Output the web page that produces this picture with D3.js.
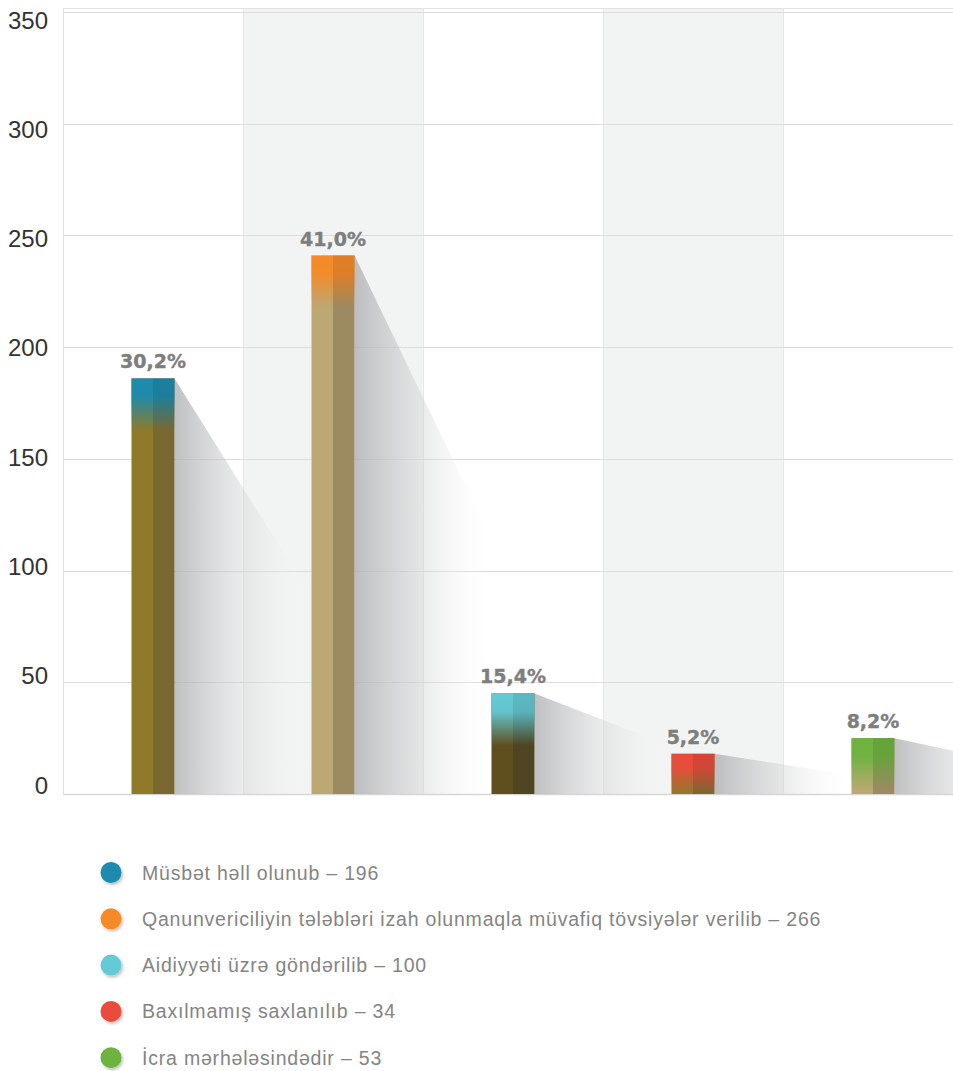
<!DOCTYPE html>
<html>
<head>
<meta charset="utf-8">
<script src="https://cdn.jsdelivr.net/npm/d3@7"></script>
<style>
  body { margin: 0; background: #fff; }
  svg { display: block; }
</style>
</head>
<body>
<div id="chart"></div>
<script>
// Categories (legend text) and their counts.
var categories = ["Müsbət həll olunub", "Qanunvericiliyin tələbləri izah olunmaqla müvafiq tövsiyələr verilib",
                  "Aidiyyəti üzrə göndərilib", "Baxılmamış saxlanılıb", "İcra mərhələsindədir"];
var counts = [196, 266, 100, 34, 53];
// Bar heights as drawn on the picture's axis.
var barHeights = [186, 241, 45, 18, 25];
var capColors = ["#1b8bae", "#f58a27", "#64cad6", "#e94b3c", "#6db33f"];
var bodyLeft  = ["#8f7a2a", "#bba873", "#5f4f1f", "#8f7a2a", "#bba873"];
var bodyRight = ["#7b6830", "#9c8a62", "#4f4522", "#7b6830", "#9c8a62"];
var yTicks = [0, 50, 100, 150, 200, 250, 300, 350];

var width = 953, height = 1071;
var plotLeft = 63, plotRight = 953, plotTop = 12, plotBottom = 794;

var svg = d3.select("#chart").append("svg")
    .attr("width", width)
    .attr("height", height);
var defs = svg.append("defs");

// Scales
var x = d3.scaleBand().domain(d3.range(categories.length)).range([plotLeft, plotLeft + 180 * 5]).padding(0);
var y = d3.scaleLinear().domain([0, 350]).range([plotBottom, plotTop]);
// tick labels sit on a slightly tighter spacing than the grid
var yLab = d3.scaleLinear().domain([0, 350]).range([785, 20]);
var barW = 43;

defs.append("clipPath").attr("id", "plotclip")
  .append("rect").attr("x", plotLeft).attr("y", 0).attr("width", plotRight - plotLeft).attr("height", plotBottom + 1);

// Alternate column bands
svg.selectAll(".band").data(d3.range(5)).enter()
  .append("rect")
  .attr("x", d => x(d))
  .attr("y", 8)
  .attr("width", d => Math.min(x.bandwidth(), plotRight - x(d)))
  .attr("height", plotBottom - 8)
  .attr("fill", (d, i) => i % 2 ? "#f2f4f3" : "#fff");

// Band separators
svg.selectAll(".sep").data(d3.range(1, 5)).enter()
  .append("line")
  .attr("x1", d => x(d) + 0.5).attr("x2", d => x(d) + 0.5)
  .attr("y1", 8).attr("y2", plotBottom)
  .attr("stroke", "#e6e7e7");

// Horizontal gridlines
svg.selectAll(".grid").data(yTicks).enter()
  .append("line")
  .attr("x1", plotLeft).attr("x2", plotRight)
  .attr("y1", d => Math.round(y(d)) + 0.5).attr("y2", d => Math.round(y(d)) + 0.5)
  .attr("stroke", d => d === 0 ? "#d6d6d6" : "#dcdcdc")
  .attr("stroke-width", d => d === 0 ? 1.5 : 1);

// frame top and left
svg.append("line").attr("x1", plotLeft).attr("x2", plotRight).attr("y1", 8.5).attr("y2", 8.5).attr("stroke", "#e2e2e2");
svg.append("line").attr("x1", plotLeft + 0.5).attr("x2", plotLeft + 0.5).attr("y1", 8).attr("y2", plotBottom).attr("stroke", "#e2e2e2");

// Y tick labels
svg.selectAll(".ylab").data(yTicks).enter()
  .append("text")
  .attr("x", 48)
  .attr("y", d => yLab(d))
  .attr("dy", "0.36em")
  .attr("text-anchor", "end")
  .attr("font-family", "'Liberation Sans', Arial, Helvetica, sans-serif")
  .attr("font-size", "24px")
  .attr("fill", "#333")
  .text(d => d);

// Shadow gradient
var sg = defs.append("linearGradient").attr("id", "shadowGrad")
  .attr("x1", "0").attr("x2", "1").attr("y1", "0").attr("y2", "0");
sg.append("stop").attr("offset", "0").attr("stop-color", "#a9abad").attr("stop-opacity", 0.75);
sg.append("stop").attr("offset", "0.5").attr("stop-color", "#d4d5d6").attr("stop-opacity", 0.45);
sg.append("stop").attr("offset", "1").attr("stop-color", "#ffffff").attr("stop-opacity", 0);

var plot = svg.append("g").attr("clip-path", "url(#plotclip)");

// Shadows behind bars
var shW = 140;
plot.selectAll(".shadow").data(barHeights).enter()
  .append("polygon")
  .attr("points", (d, i) => {
    var x1 = x(i) + x.bandwidth() / 2 + barW / 2;
    var yt = y(d);
    var h = plotBottom - yt;
    var yEnd = Math.min(plotBottom, yt + h * shW / 260);
    return [[x1, yt], [x1 + shW, yEnd], [x1 + shW, plotBottom], [x1, plotBottom]].map(p => p.join(",")).join(" ");
  })
  .attr("fill", "url(#shadowGrad)");

// Cap gradients
capColors.forEach(function (c, i) {
  [["L", c], ["R", d3.color(c).darker(0.25).formatHex()]].forEach(function (p) {
    var g = defs.append("linearGradient").attr("id", "cap" + p[0] + i)
      .attr("x1", "0").attr("x2", "0").attr("y1", "0").attr("y2", "1");
    g.append("stop").attr("offset", "0").attr("stop-color", p[1]).attr("stop-opacity", 1);
    g.append("stop").attr("offset", "0.35").attr("stop-color", p[1]).attr("stop-opacity", 0.95);
    g.append("stop").attr("offset", "1").attr("stop-color", p[1]).attr("stop-opacity", 0);
  });
});

var bars = plot.selectAll(".bar").data(barHeights).enter()
  .append("g").attr("class", "bar");

// body halves
bars.append("rect")
  .attr("x", (d, i) => x(i) + x.bandwidth() / 2 - barW / 2)
  .attr("y", d => y(d))
  .attr("width", barW / 2)
  .attr("height", d => plotBottom - y(d))
  .attr("fill", (d, i) => bodyLeft[i]);
bars.append("rect")
  .attr("x", (d, i) => x(i) + x.bandwidth() / 2)
  .attr("y", d => y(d))
  .attr("width", barW / 2)
  .attr("height", d => plotBottom - y(d))
  .attr("fill", (d, i) => bodyRight[i]);

// coloured caps
bars.append("rect")
  .attr("x", (d, i) => x(i) + x.bandwidth() / 2 - barW / 2)
  .attr("y", d => y(d))
  .attr("width", barW / 2)
  .attr("height", d => Math.min(52, plotBottom - y(d)))
  .attr("fill", (d, i) => "url(#capL" + i + ")");
bars.append("rect")
  .attr("x", (d, i) => x(i) + x.bandwidth() / 2)
  .attr("y", d => y(d))
  .attr("width", barW / 2)
  .attr("height", d => Math.min(52, plotBottom - y(d)))
  .attr("fill", (d, i) => "url(#capR" + i + ")");

// Percent labels
var total = d3.sum(counts);
svg.selectAll(".pct").data(barHeights).enter()
  .append("text")
  .attr("x", (d, i) => x(i) + x.bandwidth() / 2)
  .attr("y", d => y(d) - 10)
  .attr("text-anchor", "middle")
  .attr("font-family", "'DejaVu Sans', sans-serif")
  .attr("font-weight", "bold")
  .attr("font-size", "19px")
  .attr("fill", "#7e7e7e")
  .attr("stroke", "#7e7e7e")
  .attr("stroke-width", 0.4)
  .text((d, i) => (counts[i] / total * 100).toFixed(1).replace(".", ",") + "%");

// Legend
var ds = defs.append("filter").attr("id", "dotShadow").attr("x", "-50%").attr("y", "-50%").attr("width", "200%").attr("height", "200%");
ds.append("feDropShadow").attr("dx", 1.5).attr("dy", 2).attr("stdDeviation", 1.5)
  .attr("flood-color", "#000").attr("flood-opacity", 0.25);

var legend = svg.append("g").attr("transform", "translate(0, 872.5)");
var rows = legend.selectAll(".row").data(categories).enter()
  .append("g")
  .attr("transform", (d, i) => "translate(0," + (i * 46.3) + ")");
rows.append("circle")
  .attr("cx", 111).attr("cy", 0).attr("r", 10.5)
  .attr("fill", (d, i) => capColors[i])
  .attr("filter", "url(#dotShadow)");
rows.append("text")
  .attr("x", 142).attr("y", 7)
  .attr("font-family", "'Liberation Sans', Arial, Helvetica, sans-serif")
  .attr("font-size", "19.5px")
  .attr("letter-spacing", "0.8px")
  .attr("fill", "#848484")
  .text((d, i) => d + " – " + counts[i]);
</script>
</body>
</html>
